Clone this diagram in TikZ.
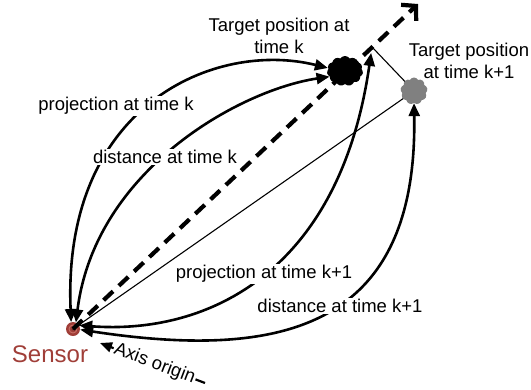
\documentclass[tikz,border=0pt]{standalone}
\usepackage{fontspec}
\setmainfont{Liberation Sans}
\usetikzlibrary{arrows.meta,shapes.symbols,calc}
\definecolor{sensorred}{RGB}{160,62,56}
\definecolor{sensorring}{RGB}{200,110,100}
\definecolor{blobgrey}{RGB}{128,128,128}
\begin{document}
\begin{tikzpicture}[x=1pt,y=-1pt,
  tip/.tip={Triangle[length=13pt,width=11pt]},
  curve/.style={line width=2.6pt, tip-tip},
  thinline/.style={line width=1.1pt},
  lbl/.style={font=\fontsize{18.5}{22}\selectfont, fill=white, inner sep=1pt, align=center},
  toplbl/.style={font=\fontsize{18.5}{22}\selectfont, inner sep=0pt, align=center}
]
\useasboundingbox (0,0) rectangle (531,389);

% sensor
\node[circle, fill=sensorred, minimum size=14pt, inner sep=0pt] (sensor) at (73,329) {};
\draw[sensorring, line width=0.9pt] (sensor.center) circle (4pt);
\fill[sensorred!70!black] (sensor.center) circle (1.5pt);

% coordinates
\coordinate (dashend) at (418,4);
\coordinate (proj) at (372,47);
\coordinate (axisend) at (205,383);

% thick dashed axis
\draw[line width=4.2pt, dash pattern=on 13pt off 8pt, -{Straight Barb[length=10pt,width=22pt]}]
  (sensor.center) -- (dashend);

% blobs positions
\coordinate (tkpos) at (345,71);
\coordinate (tk1pos) at (414,91);

% thin lines
\draw[thinline] (sensor.center) -- (tk1pos);
\draw[thinline] (tk1pos) -- (proj);

% blobs
\node[cloud, cloud puffs=11, cloud puff arc=110, fill=black, minimum width=36pt, minimum height=30pt, inner sep=0pt] (tk) at (tkpos) {};
\node[cloud, cloud puffs=9, cloud puff arc=120, aspect=1, fill=blobgrey, minimum width=27pt, minimum height=27pt, inner sep=0pt] (tk1) at (tk1pos) {};

% curves
\draw[curve] (tk.170) .. controls (215,40) and (62,105) .. (sensor.105);
\draw[curve] (tk.200) .. controls (240,90) and (95,170) .. (sensor.66);
\draw[curve, shorten >=6pt] (sensor.30) .. controls (210,335) and (340,270) .. (proj);
\draw[curve] (sensor.-5) .. controls (280,360) and (418,330) .. (tk1.south);

% labels
\node[lbl] (lpk) at (116,106) {projection at time k};
\node[lbl] (ldk) at (165,157) {distance at time k};
\node[lbl] (lpk1) at (264,274) {projection at time k+1};
\node[lbl] (ldk1) at (340,306) {distance at time k+1};
\node[toplbl] (ltk) at (279,36) {Target position at\\time k};
\node[toplbl] (ltk1) at (469,61) {Target position\\at time k+1};
\node[font=\fontsize{24}{28}\selectfont, text=sensorred, inner sep=0pt] (lsensor) at (50,354) {Sensor};

% axis origin
\draw[line width=2.2pt, -{Triangle[length=12pt,width=10pt]}] (axisend) -- (100,343)
  node[pos=0.48, sloped, fill=white, inner sep=1pt, font=\fontsize{18.5}{22}\selectfont] (laxis) {Axis origin};
\end{tikzpicture}
\end{document}
